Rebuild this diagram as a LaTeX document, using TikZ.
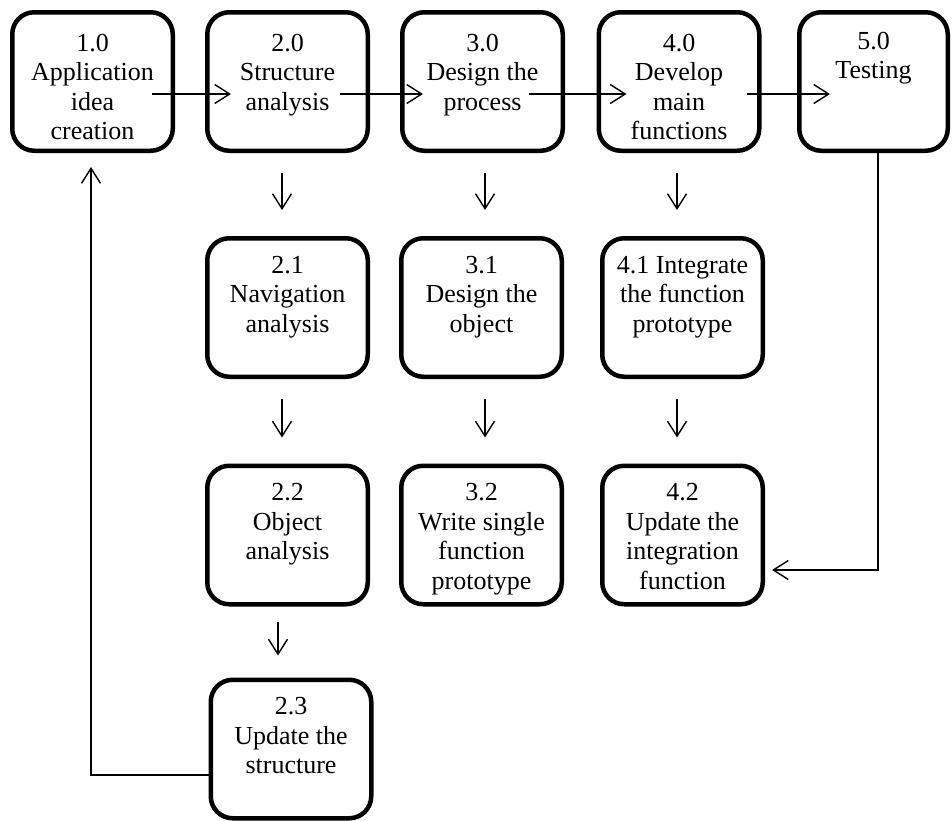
\documentclass[tikz,border=0pt]{standalone}
\usepackage{fontspec}
\setmainfont{Liberation Serif}
\usetikzlibrary{arrows.meta}
\begin{document}
\begin{tikzpicture}[x=1pt,y=1pt,
  box/.style={draw, line width=4.5pt, rounded corners=22pt, minimum width=160.5pt, minimum height=138.5pt, inner sep=0pt},
  txt/.style={font=\fontsize{26}{29.5}\selectfont, align=center, inner sep=0pt, anchor=north},
  arr/.style={line width=1.4pt, -{Straight Barb[length=15pt,width=19pt]}},
  conn/.style={line width=1.4pt}]
\useasboundingbox (0,0) rectangle (952,-820);
% top row
\node[box] (b10) at (92.5,-81.5) {};
\node[box] (b20) at (287.5,-81.5) {};
\node[box] (b30) at (482.5,-81.5) {};
\node[box] (b40) at (679,-81.5) {};
\node[box, minimum width=148.5pt] (b50) at (873.5,-81.5) {};
% second row
\node[box] (b21) at (287.5,-307.5) {};
\node[box] (b31) at (481.5,-307.5) {};
\node[box] (b41) at (682.5,-307.5) {};
% third row
\node[box] (b22) at (287.5,-535) {};
\node[box] (b32) at (481.5,-535) {};
\node[box] (b42) at (682.5,-535) {};
% fourth row
\node[box] (b23) at (291,-749) {};
% texts
\node[txt] (t10) at ([yshift=-24pt]b10.north) {1.0\\Application\\idea\\creation};
\node[txt] (t20) at ([yshift=-24pt]b20.north) {2.0\\Structure\\analysis};
\node[txt] (t30) at ([yshift=-24pt]b30.north) {3.0\\Design the\\process};
\node[txt] (t40) at ([yshift=-24pt]b40.north) {4.0\\Develop\\main\\functions};
\node[txt] (t50) at ([yshift=-22pt]b50.north) {5.0\\Testing};
\node[txt] (t21) at ([yshift=-20pt]b21.north) {2.1\\Navigation\\analysis};
\node[txt] (t31) at ([yshift=-20pt]b31.north) {3.1\\Design the\\object};
\node[txt] (t41) at ([yshift=-20pt]b41.north) {4.1 Integrate\\the function\\prototype};
\node[txt] (t22) at ([yshift=-20pt]b22.north) {2.2\\Object\\analysis};
\node[txt] (t32) at ([yshift=-20pt]b32.north) {3.2\\Write single\\function\\prototype};
\node[txt] (t42) at ([yshift=-20pt]b42.north) {4.2\\Update the\\integration\\function};
\node[txt] (t23) at ([yshift=-20pt]b23.north) {2.3\\Update the\\structure};
% horizontal arrows
\draw[arr] ([xshift=-23pt,yshift=-12.5pt]b10.east) -- ([xshift=26pt,yshift=-12.5pt]b20.west);
\draw[arr] ([xshift=-30pt,yshift=-12.5pt]b20.east) -- ([xshift=23pt,yshift=-12.5pt]b30.west);
\draw[arr] ([xshift=-36pt,yshift=-12.5pt]b30.east) -- ([xshift=30pt,yshift=-12.5pt]b40.west);
\draw[arr] ([xshift=-15pt,yshift=-12.5pt]b40.east) -- ([xshift=33pt,yshift=-12.5pt]b50.west);
% vertical arrows
\draw[arr] ([xshift=-5.5pt,yshift=-20pt]b20.south) -- ([xshift=-5.5pt,yshift=26pt]b21.north);
\draw[arr] ([xshift=-5.5pt,yshift=-20pt]b21.south) -- ([xshift=-5.5pt,yshift=26pt]b22.north);
\draw[arr] ([xshift=-9.5pt,yshift=-15pt]b22.south) -- ([xshift=-13pt,yshift=22pt]b23.north);
\draw[arr] ([xshift=2.5pt,yshift=-20pt]b30.south) -- ([xshift=3.5pt,yshift=26pt]b31.north);
\draw[arr] ([xshift=3.5pt,yshift=-20pt]b31.south) -- ([xshift=3.5pt,yshift=26pt]b32.north);
\draw[arr] ([xshift=-2pt,yshift=-20pt]b40.south) -- ([xshift=-5.5pt,yshift=26pt]b41.north);
\draw[arr] ([xshift=-5.5pt,yshift=-20pt]b41.south) -- ([xshift=-5.5pt,yshift=26pt]b42.north);
% feedback connectors
\draw[arr] ([xshift=4.5pt]b50.south) |- ([xshift=7pt,yshift=-35pt]b42.east);
\draw[arr] ([yshift=-26pt]b23.west) -| ([xshift=-1.5pt,yshift=-14pt]b10.south);
\end{tikzpicture}
\end{document}
